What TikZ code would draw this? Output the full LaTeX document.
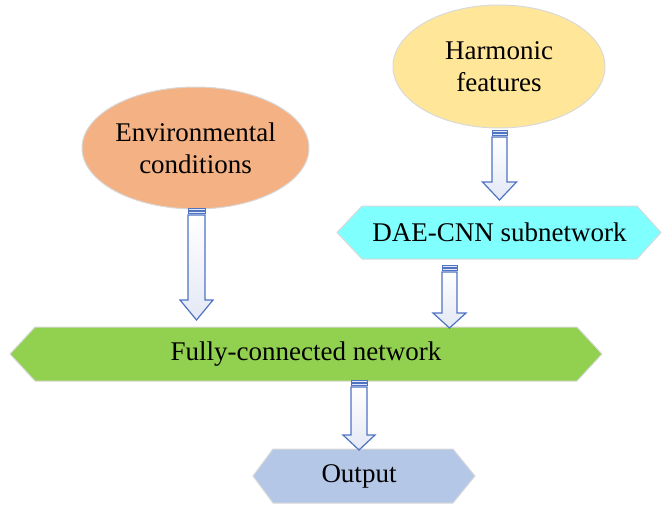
\documentclass[tikz,border=0pt]{standalone}
\usepackage{fontspec}
\setmainfont{Liberation Serif}
\usetikzlibrary{shapes.geometric}
\definecolor{envc}{HTML}{F4B183}
\definecolor{harmc}{HTML}{FFE699}
\definecolor{daec}{HTML}{80FFFF}
\definecolor{fcc}{HTML}{92D050}
\definecolor{outc}{HTML}{B4C7E7}
\definecolor{arrline}{HTML}{4F73C3}
\definecolor{arrfill}{HTML}{E3E8F5}
\definecolor{edgec}{HTML}{D9D9D9}
\tikzset{
  txt/.style={font=\fontsize{27}{32}\selectfont, align=center, inner sep=0pt, text=black},
  ell/.style={ellipse, draw=edgec, line width=1pt, inner sep=0pt, txt},
  hexa/.style={draw=edgec, line width=1pt},
  arrbody/.style={draw=arrline, line width=1.2pt, top color=white, bottom color=arrfill, line join=miter},
  arrstripe/.style={draw=arrline, line width=1pt, fill=arrfill}
}
% #1 cx, #2 top, #3 head base, #4 tip, #5 shaft half, #6 head half
\newcommand\stripedarrow[6]{%
  \draw[arrstripe] ({#1-#5},#2) rectangle ({#1+#5},{#2+2});
  \draw[arrstripe] ({#1-#5},{#2+3.5}) rectangle ({#1+#5},{#2+5.5});
  \draw[arrbody] ({#1-#5},{#2+7}) -- ({#1+#5},{#2+7}) -- ({#1+#5},#3) -- ({#1+#6},#3)
    -- (#1,#4) -- ({#1-#6},#3) -- ({#1-#5},#3) -- cycle;
}
\begin{document}
\begin{tikzpicture}[x=1pt,y=-1pt]
\useasboundingbox (0,0) rectangle (662,504);
% ellipses
\node[ell, fill=harmc, minimum width=212pt, minimum height=123pt] (harm) at (499,66.5) {Harmonic\\features};
\node[ell, fill=envc, minimum width=213pt, minimum height=122pt] (env) at (195.5,148) {Environmental\\conditions};
% hexagons
\draw[hexa, fill=daec] (337,232.5) -- (362,206) -- (637,206) -- (661,232.5) -- (637,259) -- (362,259) -- cycle;
\node[txt] (dae) at (499.5,232.5) {DAE-CNN subnetwork};
\draw[hexa, fill=fcc] (10,354) -- (35,327) -- (577,327) -- (602,354) -- (577,381) -- (35,381) -- cycle;
\node[txt] (fc) at (306,354) {Fully-connected network};
\draw[hexa, fill=outc] (253,476) -- (273,449) -- (453,449) -- (475,476) -- (453,503) -- (273,503) -- cycle;
\node[txt] (out) at (359,476) {Output};
% block arrows
\stripedarrow{499.5}{130}{182}{200}{7.5}{17}
\stripedarrow{196.5}{208}{300}{320}{8.5}{16.5}
\stripedarrow{449.5}{265}{313}{328}{7.5}{16.5}
\stripedarrow{359}{380}{435}{450}{8}{16}
\end{tikzpicture}
\end{document}
